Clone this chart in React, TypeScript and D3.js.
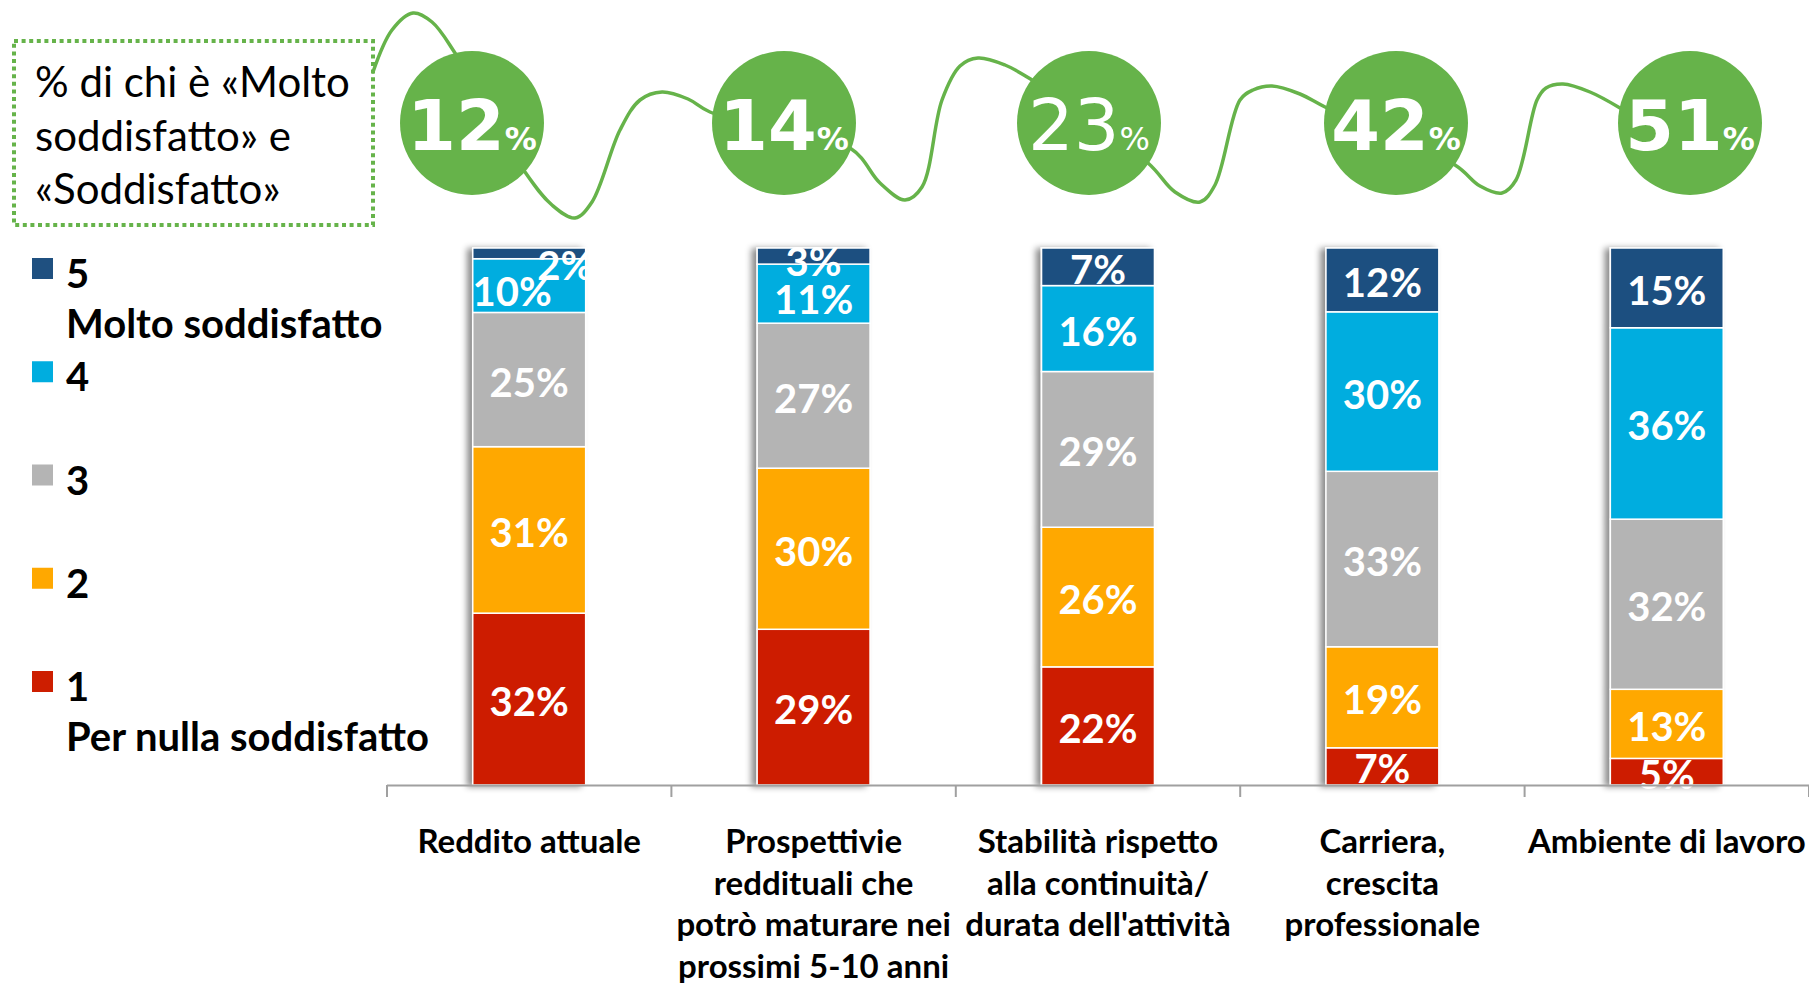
import React from "react";
import * as d3 from "d3";

// ---------- DATA ----------
const categories = [
  "Reddito attuale",
  "Prospettivie reddituali che potrò maturare nei prossimi 5-10 anni",
  "Stabilità rispetto alla continuità/ durata dell'attività",
  "Carriera, crescita professionale",
  "Ambiente di lavoro",
];
const categoryLines = [
  ["Reddito attuale"],
  ["Prospettivie", "reddituali che", "potrò maturare nei", "prossimi 5-10 anni"],
  ["Stabilità rispetto", "alla continuità/", "durata dell'attività"],
  ["Carriera,", "crescita", "professionale"],
  ["Ambiente di lavoro"],
];
const levelKeys = ["l1", "l2", "l3", "l4", "l5"];
const level1 = [32, 29, 22, 7, 5]; // Per nulla soddisfatto
const level2 = [31, 30, 26, 19, 13];
const level3 = [25, 27, 29, 33, 32];
const level4 = [10, 11, 16, 30, 36];
const level5 = [2, 3, 7, 12, 15]; // Molto soddisfatto
const topTwo = [12, 14, 23, 42, 51];
const topTwoWeights = [700, 700, 400, 700, 700];

const legendItems = [
  { key: "l5", lines: ["5", "Molto soddisfatto"] },
  { key: "l4", lines: ["4"] },
  { key: "l3", lines: ["3"] },
  { key: "l2", lines: ["2"] },
  { key: "l1", lines: ["1", "Per nulla soddisfatto"] },
];
const titleLines = ["% di chi è «Molto", "soddisfatto» e", "«Soddisfatto»"];

const colors: Record<string, string> = {
  l1: "#CD1E00",
  l2: "#FFA800",
  l3: "#B4B4B4",
  l4: "#00ADDF",
  l5: "#1F5080",
};
const green = "#66B34A";

// manual label nudges for crowded small segments (catIndex, key, dx, dy)
const labelNudges = [
  { cat: 0, key: "l5", dx: 36, dy: 10 },
  { cat: 0, key: "l4", dx: -17, dy: 3 },
  { cat: 1, key: "l5", dx: 0, dy: 3 },
  { cat: 1, key: "l4", dx: 0, dy: 3 },
];

// decorative wavy connector (through the circles)
const wavePoints: [number, number][] = [
  [373, 72], [392, 30], [413, 13], [432, 22], [455, 53],
  [525, 172], [552, 205], [575, 218], [592, 202], [620, 130], [640, 100], [662, 92], [688, 99], [710, 112],
  [850, 148], [880, 183], [905, 200], [922, 187], [942, 100], [960, 66], [978, 58], [1005, 65], [1032, 80],
  [1148, 163], [1175, 192], [1200, 202], [1215, 185], [1240, 100], [1253, 90], [1272, 86], [1300, 94], [1327, 108],
  [1455, 165], [1480, 186], [1502, 193], [1516, 180], [1537, 100], [1546, 88], [1563, 84], [1590, 92], [1620, 108],
];

const W = 1809;
const H = 983;

export default function App() {
  const rows = categories.map((c, i) => ({
    cat: c,
    l1: level1[i],
    l2: level2[i],
    l3: level3[i],
    l4: level4[i],
    l5: level5[i],
  }));
  const raw: Record<string, number[]> = { l1: level1, l2: level2, l3: level3, l4: level4, l5: level5 };

  const x = d3
    .scaleBand<string>()
    .domain(categories)
    .range([387, W])
    .paddingInner(0.603)
    .paddingOuter(0.3015);
  const y = d3.scaleLinear().domain([0, 1]).range([785, 248]);

  const stack = d3
    .stack<any>()
    .keys(levelKeys)
    .offset(d3.stackOffsetExpand);
  const series = stack(rows as any);

  const circleX = d3
    .scaleOrdinal<string, number>()
    .domain(categories)
    .range([472, 784, 1089, 1396, 1690]);

  const wave = d3.line().curve(d3.curveCatmullRom.alpha(0.5))(wavePoints) || "";

  const bw = x.bandwidth();
  const step = x.step();
  const x0 = x.range()[0];

  const legendY = d3.scaleLinear().domain([0, 4]).range([258, 671]);

  const barFont = "Lato, 'Open Sans', sans-serif";

  return (
    <div style={{ position: "absolute", left: 0, top: 0, width: W, height: H, background: "#fff" }}>
      <svg width={W} height={H} viewBox={`0 0 ${W} ${H}`} style={{ display: "block" }}>
        <defs>
          <filter id="barShadow" x="-30%" y="-5%" width="160%" height="110%">
            <feDropShadow dx={-5} dy={1} stdDeviation={3} floodColor="#000" floodOpacity={0.45} />
          </filter>
        </defs>

        {/* Title box */}
        <rect x={14} y={41} width={359} height={184} fill="none" stroke={green} strokeWidth={4} strokeDasharray="4 3.6" />
        {titleLines.map((t, i) => (
          <text key={i} x={35} y={97 + i * 53.5} fontFamily="Lato, sans-serif" fontSize={42} fill="#000">
            {t}
          </text>
        ))}

        {/* wave */}
        <path d={wave} fill="none" stroke={green} strokeWidth={3.5} strokeLinecap="round" />

        {/* circles */}
        {categories.map((c, i) => (
          <g key={c}>
            <circle cx={circleX(c)} cy={123} r={72} fill={green} />
            <text
              x={circleX(c)}
              y={150}
              textAnchor="middle"
              fill="#fff"
              fontFamily="'DejaVu Sans', sans-serif"
            >
              <tspan fontSize={i === 2 ? 72 : 70} fontWeight={topTwoWeights[i]}>{topTwo[i]}</tspan>
              <tspan fontSize={32} fontWeight={topTwoWeights[i]}>%</tspan>
            </text>
          </g>
        ))}

        {/* legend */}
        {legendItems.map((it, i) => (
          <g key={it.key}>
            <rect x={32} y={legendY(i)} width={21} height={21} fill={colors[it.key]} />
            {it.lines.map((l, j) => (
              <text
                key={j}
                x={66}
                y={legendY(i) + 30 + j * 50}
                fontFamily="Lato, sans-serif"
                fontWeight={700}
                fontSize={40}
                fill="#000"
              >
                {l}
              </text>
            ))}
          </g>
        ))}

        {/* bars */}
        {categories.map((c, ci) => (
          <g key={c} filter="url(#barShadow)">
            {series.map((s) => {
              const d = s[ci];
              return (
                <rect
                  key={s.key}
                  x={x(c)}
                  y={y(d[1])}
                  width={bw}
                  height={y(d[0]) - y(d[1])}
                  fill={colors[s.key]}
                  stroke="#fff"
                  strokeWidth={1.5}
                />
              );
            })}
          </g>
        ))}

        {/* bar labels */}
        {categories.map((c, ci) =>
          series.map((s) => {
            const d = s[ci];
            const n = labelNudges.find((q) => q.cat === ci && q.key === s.key);
            const cx = (x(c) as number) + bw / 2 + (n ? n.dx : 0);
            const cy = (y(d[0]) + y(d[1])) / 2 + 17 + (n ? n.dy : 0);
            return (
              <text
                key={c + s.key}
                x={cx}
                y={cy}
                textAnchor="middle"
                fill="#fff"
                fontFamily={barFont}
                fontWeight={700}
                fontSize={40}
              >
                {raw[s.key][ci]}%
              </text>
            );
          })
        )}

        {/* axis */}
        <line x1={x0} x2={W} y1={785.5} y2={785.5} stroke="#A0A0A0" strokeWidth={2} />
        {d3.range(categories.length + 1).map((i) => (
          <line
            key={i}
            x1={x0 + i * step}
            x2={x0 + i * step}
            y1={785}
            y2={797}
            stroke="#A0A0A0"
            strokeWidth={2}
          />
        ))}

        {/* category labels */}
        {categories.map((c, ci) => (
          <text
            key={c}
            textAnchor="middle"
            fontFamily="Lato, sans-serif"
            fontWeight={700}
            fontSize={33}
            fill="#000"
          >
            {categoryLines[ci].map((l, j) => (
              <tspan key={j} x={(x(c) as number) + bw / 2} y={853 + j * 41.5}>
                {l}
              </tspan>
            ))}
          </text>
        ))}
      </svg>
    </div>
  );
}
